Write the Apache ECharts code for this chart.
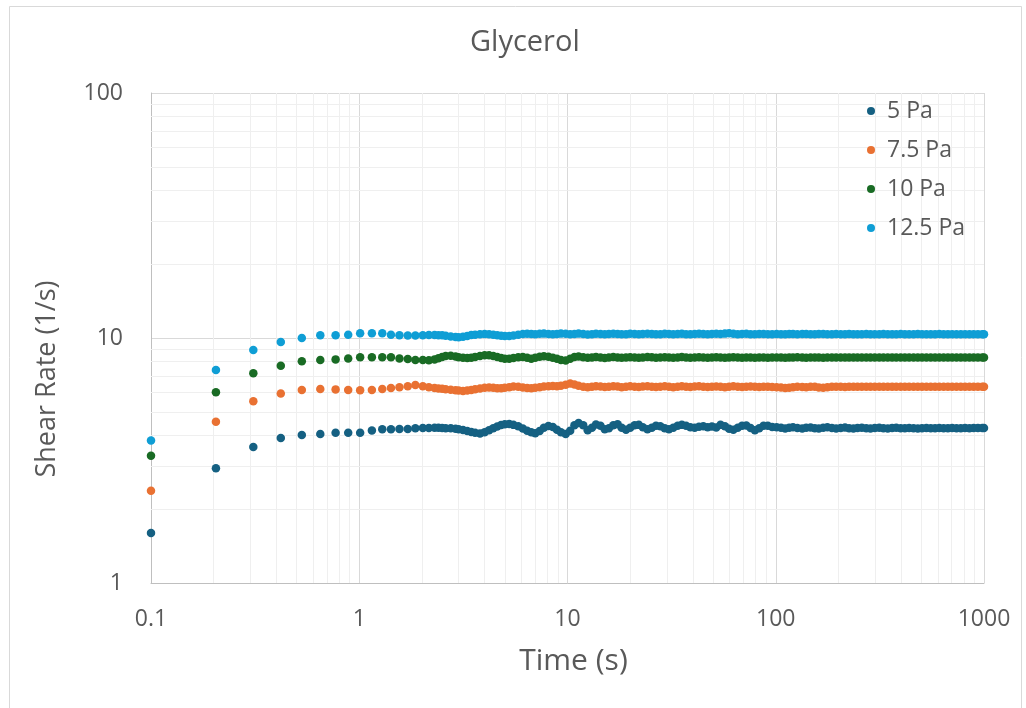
<!DOCTYPE html>
<html>
<head>
<meta charset="utf-8">
<script src="https://cdn.jsdelivr.net/npm/echarts@6/dist/echarts.min.js"></script>
<style>html,body{margin:0;padding:0;background:#fff;}#c{width:1026px;height:708px;}</style>
</head>
<body>
<div id="c"></div>
<script>
// Time (s)
const time = [0.1,0.205,0.31,0.42,0.53,0.65,0.77,0.885,1.01,1.15,1.29,1.42,1.56,1.71,1.86,2.02,
2.16,2.3,2.4,2.5,2.6,2.75,2.9,3.0,3.15,3.3,3.45,3.6,3.8,4.0,4.2,4.4,4.6,4.8,5.0,5.25,5.5,5.8,6.1,6.4,6.7,7.0,7.35,7.7,8.1,8.5,8.9,9.3,9.8,
10.3,10.8,11.3,11.9,12.5,13.1,13.7,14.4,15.1,15.8,16.6,17.4,18.2,19.1,20,21,22,23,24.2,25.4,26.6,27.9,29.3,30.7,32.2,33.8,35.4,37.1,38.9,40.8,42.8,44.9,47.1,49.4,51.8,54.3,57,59.7,62.6,65.7,68.9,72.2,75.7,79.4,83.3,87.4,91.6,96.1,
101,106,111,116,121,127,134,140,147,154,161,169,177,186,195,205,215,225,236,247,259,272,285,299,314,329,345,362,379,398,417,437,459,481,504,529,555,582,610,640,671,703,738,774,811,851,892,935,981,1000];

// Shear rate (1/s), 5 Pa
const rate5 = [1.60,2.94,3.59,3.91,4.02,4.06,4.10,4.10,4.10,4.19,4.24,4.24,4.25,4.25,4.28,4.29,
4.29,4.30,4.30,4.29,4.28,4.28,4.26,4.24,4.21,4.17, 4.13,4.10,4.08,4.12,4.20,4.28,4.35,4.41,4.45,4.46, 4.42,4.36,4.27,4.18,4.12,4.09,4.17,4.30,4.37,4.33, 4.22,4.12,4.06,
4.18,4.40,4.50,4.40,4.20,4.30,4.44,4.38,4.24,4.28, 4.40,4.45,4.30,4.22,4.30,4.40,4.42,4.32,4.24,4.30, 4.38,4.36,4.28,4.24,4.30,4.38,4.42,4.38,4.32,4.30, 4.34,4.36,4.32,4.35,4.31,4.42,4.36,4.26,4.22,4.30, 4.38,4.39,4.29,4.20,4.28,4.38,4.38,4.33,
4.32,4.30,4.27,4.30,4.32,4.29,4.27,4.30,4.31,4.28, 4.27,4.30,4.32,4.29,4.27,4.29,4.31,4.28,4.27,4.29, 4.30,4.28,4.27,4.29,4.30,4.28,4.27,4.29,4.30,4.28, 4.28,4.29,4.28,4.27,4.28,4.29,4.28,4.28,4.29,4.28, 4.28,4.29,4.28,4.28,4.29,4.28,4.29,4.29,4.29,4.29];

// 7.5 Pa
const rate75 = [2.38,4.55,5.52,5.93,6.13,6.19,6.17,6.13,6.12,6.13,6.19,6.25,6.29,6.36,6.43,6.36,
6.29,6.25,6.22,6.20,6.18,6.15,6.12,6.10,6.08,6.10, 6.14,6.18,6.22,6.26,6.28,6.26,6.24,6.24,6.26,6.30, 6.34,6.32,6.28,6.25,6.24,6.26,6.30,6.34,6.36,6.37, 6.35,6.38,6.44,
6.52,6.46,6.38,6.32,6.30,6.33,6.36,6.34,6.31,6.33, 6.36,6.34,6.30,6.32,6.35,6.33,6.31,6.34,6.36,6.33, 6.31,6.33,6.35,6.32,6.30,6.33,6.35,6.33,6.31,6.34, 6.35,6.32,6.31,6.33,6.34,6.32,6.30,6.33,6.35,6.32, 6.31,6.33,6.34,6.32,6.31,6.33,6.32,6.31,
6.30,6.28,6.25,6.27,6.30,6.32,6.31,6.30,6.33,6.32, 6.28,6.26,6.29,6.32,6.33,6.32,6.31,6.32,6.33,6.32, 6.32,6.33,6.32,6.32,6.33,6.32,6.32,6.33,6.32,6.32, 6.33,6.32,6.32,6.33,6.32,6.32,6.33,6.32,6.32,6.33, 6.32,6.32,6.33,6.32,6.32,6.33,6.32,6.32,6.33,6.33];

// 10 Pa
const rate10 = [3.31,6.00,7.18,7.71,8.03,8.13,8.18,8.25,8.34,8.34,8.34,8.34,8.25,8.20,8.13,8.13,
8.12,8.18,8.26,8.36,8.44,8.46,8.40,8.34,8.30,8.28, 8.30,8.36,8.44,8.50,8.50,8.44,8.36,8.28,8.22,8.22, 8.28,8.34,8.36,8.30,8.22,8.30,8.38,8.42,8.38,8.30, 8.22,8.14,8.10,
8.22,8.36,8.40,8.34,8.30,8.33,8.36,8.32,8.29,8.33, 8.36,8.33,8.30,8.32,8.35,8.33,8.30,8.33,8.36,8.34, 8.31,8.33,8.35,8.32,8.30,8.33,8.36,8.33,8.31,8.33, 8.35,8.32,8.30,8.33,8.34,8.32,8.31,8.33,8.34,8.32, 8.31,8.33,8.32,8.31,8.33,8.32,8.31,8.32,
8.33,8.32,8.31,8.33,8.32,8.34,8.32,8.31,8.32,8.33, 8.32,8.31,8.32,8.33,8.32,8.32,8.33,8.32,8.32,8.33, 8.32,8.32,8.33,8.32,8.32,8.33,8.32,8.32,8.33,8.32, 8.32,8.33,8.32,8.32,8.33,8.32,8.32,8.33,8.32,8.32, 8.33,8.32,8.32,8.33,8.32,8.32,8.33,8.32,8.32,8.32];

// 12.5 Pa
const rate125 = [3.82,7.40,8.93,9.63,10.00,10.26,10.26,10.32,10.45,10.45,10.45,10.32,10.26,10.24,10.24,10.26,
10.28,10.28,10.27,10.26,10.22,10.15,10.10,10.08,10.12,10.20, 10.28,10.32,10.36,10.38,10.36,10.30,10.26,10.22,10.20,10.19, 10.24,10.32,10.38,10.40,10.38,10.36,10.40,10.42,10.38,10.36, 10.38,10.42,10.40,
10.36,10.38,10.42,10.38,10.34,10.37,10.40,10.38,10.35,10.38, 10.41,10.38,10.35,10.37,10.40,10.38,10.36,10.39,10.41,10.38, 10.35,10.37,10.40,10.38,10.36,10.38,10.40,10.37,10.35,10.38, 10.40,10.38,10.36,10.38,10.40,10.38,10.42,10.46,10.40,10.37, 10.38,10.40,10.37,10.36,10.38,10.39,10.37,10.36,
10.38,10.36,10.37,10.39,10.38,10.36,10.38,10.39,10.37,10.36, 10.38,10.39,10.37,10.36,10.38,10.37,10.36,10.38,10.37,10.36, 10.37,10.38,10.37,10.36,10.37,10.38,10.37,10.36,10.37,10.38, 10.37,10.36,10.37,10.38,10.37,10.37,10.36,10.37,10.38,10.37, 10.37,10.37,10.36,10.37,10.37,10.37,10.36,10.37,10.37,10.37];

const seriesNames = ['5 Pa','7.5 Pa','10 Pa','12.5 Pa'];
const seriesColors = ['#156082','#E97132','#196B24','#0F9ED5'];
const xTickLabels = ['0.1','1','10','100','1000'];
const yTickLabels = ['1','10','100'];
const xDecades = [0.1,1,10,100];
const yDecades = [1,10];

const FONT = '"Open Sans", "Noto Sans", sans-serif';
const TXT = '#595959';

const minorX = [];
xDecades.forEach(d => { for (let k = 2; k <= 9; k++) minorX.push({xAxis: +(d*k).toPrecision(3)}); });
const minorY = [];
yDecades.forEach(d => { for (let k = 2; k <= 9; k++) minorY.push({yAxis: +(d*k).toPrecision(3)}); });

const allRates = [rate5, rate75, rate10, rate125];
const scatterSeries = allRates.map((arr, i) => ({
  name: seriesNames[i],
  type: 'scatter',
  symbol: 'circle',
  symbolSize: 8.5,
  z: 3,
  itemStyle: {color: seriesColors[i], opacity: 1},
  data: time.map((t, j) => [t, arr[j]]).filter(p => p[1] !== undefined)
}));

const chart = echarts.init(document.getElementById('c'), null, {renderer: 'canvas'});
chart.setOption({
  animation: false,
  backgroundColor: '#ffffff',
  textStyle: {fontFamily: FONT},
  graphic: [{
    type: 'rect', left: 7, top: 4, silent: true, z: -10,
    shape: {width: 1012, height: 702},
    style: {fill: 'none', stroke: '#d9d9d9', lineWidth: 1}
  }],
  title: {
    text: 'Glycerol', left: 465, top: 23,
    textStyle: {fontFamily: FONT, fontSize: 29, fontWeight: 'normal', color: TXT}
  },
  legend: {
    data: seriesNames,
    orient: 'vertical',
    left: 867, top: 99, padding: 0,
    icon: 'circle',
    itemWidth: 8, itemHeight: 8, itemGap: 15,
    textStyle: {fontFamily: FONT, fontSize: 23, color: TXT, lineHeight: 24, padding: [0,0,0,7]}
  },
  grid: {left: 151, right: 42, top: 93, bottom: 125, containLabel: false},
  xAxis: {
    type: 'log', logBase: 10, min: 0.1, max: 1000,
    name: 'Time (s)', nameLocation: 'middle', nameGap: 63,
    nameTextStyle: {fontFamily: FONT, fontSize: 30, color: TXT, padding: [0,0,0,12]},
    axisLine: {show: true, lineStyle: {color: '#bfbfbf', width: 1}},
    axisTick: {show: false},
    axisLabel: {
      margin: 25, fontFamily: FONT, fontSize: 23, color: TXT,
      formatter: v => { const s = xTickLabels.find(l => Math.abs(parseFloat(l) - v) < 1e-6 * Math.max(1, v)); return s || ''; }
    },
    splitLine: {show: true, lineStyle: {color: '#d9d9d9', width: 1}}
  },
  yAxis: {
    type: 'log', logBase: 10, min: 1, max: 100,
    name: 'Shear Rate (1/s)', nameLocation: 'middle', nameGap: 90,
    nameTextStyle: {fontFamily: FONT, fontSize: 27, color: TXT, padding: [0,82,0,0]},
    axisLine: {show: true, lineStyle: {color: '#bfbfbf', width: 1}},
    axisTick: {show: false},
    axisLabel: {
      margin: 28, fontFamily: FONT, fontSize: 23, color: TXT,
      formatter: v => { const s = yTickLabels.find(l => Math.abs(parseFloat(l) - v) < 1e-6 * Math.max(1, v)); return s || ''; }
    },
    splitLine: {show: true, lineStyle: {color: '#d9d9d9', width: 1}}
  },
  series: [{
    name: 'minor-grid',
    type: 'scatter',
    data: [],
    z: 1,
    silent: true,
    markLine: {
      silent: true, symbol: ['none','none'], animation: false, z: 1,
      label: {show: false},
      lineStyle: {color: '#efefef', width: 1, type: 'solid'},
      emphasis: {disabled: true},
      data: minorX.concat(minorY)
    }
  }].concat(scatterSeries)
});
</script>
</body>
</html>
